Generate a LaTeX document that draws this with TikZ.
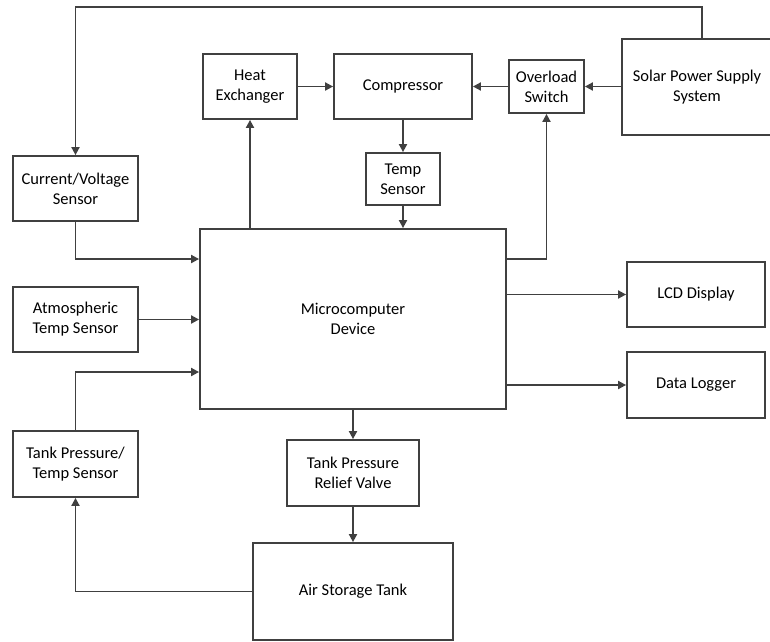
\documentclass[tikz,border=0pt]{standalone}
\usepackage{fontspec}
\setmainfont{Carlito}
\usetikzlibrary{arrows.meta,shadows}
\definecolor{ink}{HTML}{404040}
\begin{document}
\begin{tikzpicture}[x=1pt,y=-1pt,
  blk/.style={draw=ink, line width=1.8pt, fill=white, align=center,
    inner sep=0pt, font=\fontsize{16.5}{20}\selectfont,
    general shadow={fill=black!28, shadow xshift=1.3pt, shadow yshift=-1.3pt}},
  arr/.style={draw=ink, line width=1.8pt, -{Triangle[length=8pt,width=8pt]}}]
\useasboundingbox (0,0) rectangle (770,641);

% blocks
\node[blk, minimum width=94pt, minimum height=65pt]  (he)    at (250,86.5)  {Heat\\Exchanger};
\node[blk, minimum width=138pt, minimum height=65pt] (comp)  at (403,86.5)  {Compressor};
\node[blk, minimum width=75pt, minimum height=53pt]  (ovl)   at (546.5,86.5) {Overload\\Switch};
\node[blk, minimum width=150pt, minimum height=96pt] (solar) at (697,87)    {Solar Power Supply\\System};
\node[blk, minimum width=74pt, minimum height=52pt]  (temp)  at (403,179)   {Temp\\Sensor};
\node[blk, minimum width=125pt, minimum height=65pt] (cv)    at (75.5,188.5) {Current/Voltage\\Sensor};
\node[blk, minimum width=306pt, minimum height=180pt] (micro) at (353,319)   {Microcomputer\\Device};
\node[blk, minimum width=125pt, minimum height=65pt] (atm)   at (75.5,319.5) {Atmospheric\\Temp Sensor};
\node[blk, minimum width=138pt, minimum height=65pt] (lcd)   at (696,294.5) {LCD Display};
\node[blk, minimum width=138pt, minimum height=66pt] (dl)    at (696,385)   {Data Logger};
\node[blk, minimum width=125pt, minimum height=66pt] (tpt)   at (75.5,464)  {Tank Pressure/\\Temp Sensor};
\node[blk, minimum width=132pt, minimum height=66pt] (valve) at (353,473)   {Tank Pressure\\Relief Valve};
\node[blk, minimum width=200pt, minimum height=97pt] (tank)  at (353,591.5) {Air Storage Tank};

% routing levels
\coordinate (topbus) at (0,7);
\coordinate (sensbus) at (0,259);
\coordinate (tankbus) at (0,372);
\coordinate (solartap) at (702,39);

% power path
\draw[arr] (solartap) |- (topbus -| cv.north) -- (cv.north);
\draw[arr] (solar.west |- ovl.east) -- (ovl.east);
\draw[arr] (ovl.west) -- (comp.east);
\draw[arr] (he.east) -- (comp.west);
\draw[arr] (comp.south) -- (temp.north);
\draw[arr] (temp.south) -- (temp.south |- micro.north);
\draw[arr] (he.south |- micro.north) -- (he.south);
\draw[arr] (micro.east |- sensbus) -| (ovl.south);

% sensor inputs
\draw[arr] (cv.south) |- (micro.west |- sensbus);
\draw[arr] (atm.east) -- (micro.west |- atm.east);
\draw[arr] (tpt.north) |- (micro.west |- tankbus);

% outputs
\draw[arr] (micro.east |- lcd.west) -- (lcd.west);
\draw[arr] (micro.east |- dl.west) -- (dl.west);
\draw[arr] (micro.south) -- (valve.north);
\draw[arr] (valve.south) -- (tank.north);
\draw[arr] (tank.west) -| (tpt.south);
\end{tikzpicture}
\end{document}
